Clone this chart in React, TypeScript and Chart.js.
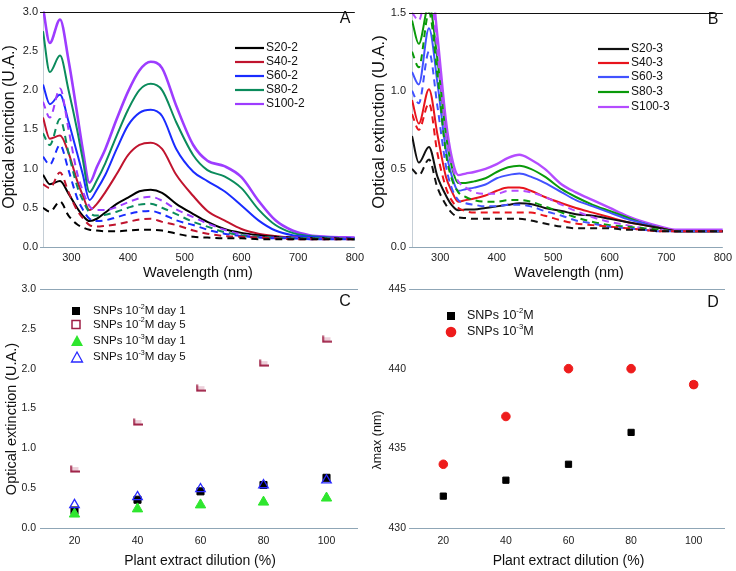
import React, { useEffect, useRef } from 'react';
import { Chart, registerables } from 'chart.js';

Chart.register(...registerables);

const FONT = '"Liberation Sans", Arial, Helvetica, sans-serif';

// ---------------- data ----------------
const WAVELENGTHS = [250, 262, 280, 295, 310, 320, 332, 345, 360, 380, 400, 420, 440, 460, 485, 515, 540, 570, 600, 630, 660, 690, 720, 750, 800];

// Panel A (10^-2 M): solid = day 5, dashed = day 1
const A_LABELS = ['S20-2', 'S40-2', 'S60-2', 'S80-2', 'S100-2'];
const A_COLORS = ['#000000', '#c0142e', '#1a2cff', '#0b8b5c', '#9d3cff'];
const A_S20_DAY5 = [0.92, 0.8, 0.84, 0.68, 0.5, 0.4, 0.33, 0.36, 0.44, 0.55, 0.63, 0.71, 0.73, 0.69, 0.55, 0.42, 0.32, 0.23, 0.18, 0.15, 0.13, 0.12, 0.11, 0.11, 0.1];
const A_S40_DAY5 = [1.65, 1.38, 1.42, 1.2, 0.85, 0.66, 0.47, 0.55, 0.7, 0.93, 1.17, 1.3, 1.33, 1.25, 0.92, 0.65, 0.46, 0.34, 0.23, 0.17, 0.14, 0.12, 0.11, 0.11, 0.1];
const A_S60_DAY5 = [2.07, 1.82, 1.94, 1.6, 1.2, 0.93, 0.6, 0.73, 0.92, 1.25, 1.55, 1.71, 1.75, 1.67, 1.25, 0.96, 0.84, 0.71, 0.53, 0.34, 0.21, 0.15, 0.13, 0.12, 0.11];
const A_S80_DAY5 = [2.75, 2.23, 2.44, 2.0, 1.5, 1.12, 0.7, 0.85, 1.07, 1.42, 1.75, 2.0, 2.08, 2.0, 1.59, 1.17, 0.98, 0.9, 0.75, 0.48, 0.28, 0.18, 0.14, 0.12, 0.11];
const A_S100_DAY5 = [3.05, 2.6, 2.9, 2.38, 1.71, 1.25, 0.82, 1.02, 1.25, 1.63, 1.98, 2.25, 2.36, 2.28, 1.8, 1.3, 1.1, 1.03, 0.89, 0.59, 0.34, 0.21, 0.15, 0.13, 0.12];
const A_S20_DAY1 = [0.5, 0.45, 0.58, 0.4, 0.29, 0.25, 0.22, 0.21, 0.2, 0.2, 0.21, 0.22, 0.22, 0.21, 0.17, 0.13, 0.12, 0.11, 0.11, 0.1, 0.1, 0.1, 0.1, 0.1, 0.1];
const A_S40_DAY1 = [0.8, 0.75, 0.95, 0.7, 0.47, 0.37, 0.28, 0.26, 0.27, 0.29, 0.32, 0.35, 0.36, 0.32, 0.28, 0.21, 0.17, 0.14, 0.13, 0.12, 0.11, 0.1, 0.1, 0.1, 0.1];
const A_S60_DAY1 = [1.15, 1.05, 1.3, 0.98, 0.63, 0.48, 0.36, 0.33, 0.34, 0.38, 0.42, 0.45, 0.46, 0.42, 0.34, 0.28, 0.22, 0.17, 0.14, 0.12, 0.11, 0.11, 0.1, 0.1, 0.1];
const A_S80_DAY1 = [1.45, 1.3, 1.63, 1.2, 0.78, 0.6, 0.44, 0.4, 0.41, 0.45, 0.5, 0.54, 0.55, 0.5, 0.42, 0.32, 0.26, 0.19, 0.15, 0.13, 0.12, 0.11, 0.11, 0.11, 0.1];
const A_S100_DAY1 = [1.85, 1.65, 2.02, 1.5, 0.95, 0.72, 0.52, 0.47, 0.47, 0.51, 0.57, 0.62, 0.64, 0.59, 0.48, 0.38, 0.3, 0.22, 0.16, 0.13, 0.12, 0.12, 0.11, 0.11, 0.11];

// Panel B (10^-3 M): solid = day 5, dashed = day 1
const B_LABELS = ['S20-3', 'S40-3', 'S60-3', 'S80-3', 'S100-3'];
const B_COLORS = ['#111111', '#e8141c', '#4252ff', '#0a9a0a', '#b44cff'];
const B_S20_DAY5 = [0.71, 0.54, 0.64, 0.45, 0.33, 0.27, 0.235, 0.24, 0.24, 0.25, 0.26, 0.27, 0.28, 0.275, 0.25, 0.23, 0.21, 0.2, 0.18, 0.16, 0.14, 0.12, 0.1, 0.1, 0.1];
const B_S40_DAY5 = [0.94, 0.79, 1.01, 0.72, 0.45, 0.36, 0.29, 0.3, 0.31, 0.33, 0.36, 0.38, 0.38, 0.36, 0.32, 0.28, 0.25, 0.22, 0.19, 0.16, 0.14, 0.12, 0.1, 0.1, 0.1];
const B_S60_DAY5 = [1.12, 1.04, 1.4, 1.05, 0.62, 0.46, 0.36, 0.37, 0.38, 0.4, 0.44, 0.46, 0.47, 0.45, 0.41, 0.35, 0.3, 0.26, 0.22, 0.18, 0.15, 0.12, 0.1, 0.1, 0.1];
const B_S80_DAY5 = [1.45, 1.3, 1.55, 1.2, 0.72, 0.52, 0.41, 0.41, 0.42, 0.44, 0.48, 0.51, 0.52, 0.5, 0.45, 0.37, 0.32, 0.27, 0.23, 0.19, 0.15, 0.12, 0.1, 0.1, 0.1];
const B_S100_DAY5 = [1.65, 1.55, 1.8, 1.35, 0.81, 0.58, 0.46, 0.47, 0.48, 0.5, 0.53, 0.57, 0.59, 0.56, 0.5, 0.4, 0.35, 0.3, 0.25, 0.2, 0.16, 0.13, 0.11, 0.11, 0.11];
const B_S20_DAY1 = [0.5, 0.46, 0.56, 0.38, 0.27, 0.22, 0.19, 0.185, 0.18, 0.18, 0.18, 0.18, 0.18, 0.17, 0.15, 0.13, 0.12, 0.12, 0.12, 0.11, 0.11, 0.1, 0.1, 0.1, 0.1];
const B_S40_DAY1 = [0.85, 0.75, 0.92, 0.6, 0.38, 0.3, 0.25, 0.23, 0.22, 0.22, 0.22, 0.22, 0.22, 0.22, 0.2, 0.17, 0.15, 0.14, 0.13, 0.12, 0.11, 0.1, 0.1, 0.1, 0.1];
const B_S60_DAY1 = [1.0, 0.92, 1.25, 0.9, 0.52, 0.38, 0.3, 0.28, 0.27, 0.26, 0.26, 0.27, 0.27, 0.26, 0.23, 0.2, 0.17, 0.15, 0.13, 0.12, 0.11, 0.1, 0.1, 0.1, 0.1];
const B_S80_DAY1 = [1.25, 1.15, 1.5, 1.1, 0.6, 0.44, 0.35, 0.32, 0.3, 0.29, 0.29, 0.3, 0.3, 0.29, 0.26, 0.22, 0.19, 0.16, 0.14, 0.13, 0.12, 0.11, 0.1, 0.1, 0.1];
const B_S100_DAY1 = [1.5, 1.45, 1.7, 1.25, 0.72, 0.53, 0.42, 0.38, 0.35, 0.34, 0.34, 0.36, 0.36, 0.35, 0.32, 0.27, 0.23, 0.19, 0.16, 0.14, 0.12, 0.11, 0.1, 0.1, 0.1];

// Panel C / D
const DILUTION = [20, 40, 60, 80, 100];
const C_SNP2_DAY1 = [0.22, 0.355, 0.46, 0.54, 0.63];
const C_SNP2_DAY5 = [0.74, 1.33, 1.755, 2.07, 2.37];
const C_SNP3_DAY1 = [0.175, 0.24, 0.29, 0.325, 0.376];
const C_SNP3_DAY5 = [0.29, 0.39, 0.49, 0.54, 0.6];
const D_SNP2 = [432, 433, 434, 436, 439];
const D_SNP3 = [434, 437, 440, 440, 439];

const A_TICKS_X = [300, 400, 500, 600, 700, 800];
const C_TICKS_X = [20, 40, 60, 80, 100];

// ---------------- helpers ----------------
type Part = { t: string; sup?: boolean };
type LegendEntry = { parts: Part[]; mark: (ctx: CanvasRenderingContext2D, y: number) => void };

function drawRich(ctx: CanvasRenderingContext2D, parts: Part[], x: number, y: number, size: number) {
  let cx = x;
  ctx.textAlign = 'left';
  ctx.textBaseline = 'middle';
  for (const p of parts) {
    const s = p.sup ? size * 0.62 : size;
    ctx.font = `${s}px ${FONT}`;
    ctx.fillText(p.t, cx, p.sup ? y - size * 0.38 : y);
    cx += ctx.measureText(p.t).width;
  }
}

type Decor = {
  letter: string; letterPos: [number, number];
  xTitle: string; xTitlePos: [number, number]; xTitleSize: number;
  yTitle: string; yTitlePos: [number, number]; yTitleSize: number;
  topColor: string; bottomColor: string; leftColor?: string;
  legend: LegendEntry[]; legendTextX: number; legendYs: number[]; legendSize: number;
};

function decorPlugin(d: Decor) {
  return {
    id: 'decor' + d.letter,
    beforeDatasetsDraw(chart: any) {
      const { ctx, chartArea: a } = chart;
      ctx.save();
      ctx.lineWidth = 1;
      ctx.strokeStyle = d.bottomColor;
      ctx.beginPath();
      ctx.moveTo(a.left - 3, Math.round(a.bottom) + 0.5);
      ctx.lineTo(a.right, Math.round(a.bottom) + 0.5);
      ctx.stroke();
      if (d.leftColor) {
        ctx.strokeStyle = d.leftColor;
        ctx.beginPath();
        ctx.moveTo(Math.round(a.left) + 0.5, a.top);
        ctx.lineTo(Math.round(a.left) + 0.5, a.bottom);
        ctx.stroke();
      }
      ctx.restore();
    },
    afterDraw(chart: any) {
      const { ctx, chartArea: a } = chart;
      ctx.save();
      ctx.lineWidth = 1;
      ctx.strokeStyle = d.topColor;
      ctx.beginPath();
      ctx.moveTo(a.left - 3, Math.round(a.top) + 0.5);
      ctx.lineTo(a.right, Math.round(a.top) + 0.5);
      ctx.stroke();

      ctx.fillStyle = '#111';
      ctx.textAlign = 'center';
      ctx.textBaseline = 'middle';
      ctx.font = `16px ${FONT}`;
      ctx.fillText(d.letter, d.letterPos[0], d.letterPos[1]);

      ctx.font = `${d.xTitleSize}px ${FONT}`;
      ctx.fillText(d.xTitle, d.xTitlePos[0], d.xTitlePos[1]);

      ctx.save();
      ctx.translate(d.yTitlePos[0], d.yTitlePos[1]);
      ctx.rotate(-Math.PI / 2);
      ctx.font = `${d.yTitleSize}px ${FONT}`;
      ctx.fillText(d.yTitle, 0, 0);
      ctx.restore();

      d.legend.forEach((e, i) => {
        const y = d.legendYs[i];
        ctx.save();
        e.mark(ctx, y);
        ctx.restore();
        ctx.fillStyle = '#111';
        drawRich(ctx, e.parts, d.legendTextX, y, d.legendSize);
      });
      ctx.restore();
    },
  };
}

function lineMark(color: string, x1: number, x2: number) {
  return (ctx: CanvasRenderingContext2D, y: number) => {
    ctx.strokeStyle = color;
    ctx.lineWidth = 2.2;
    ctx.beginPath();
    ctx.moveTo(x1, y);
    ctx.lineTo(x2, y);
    ctx.stroke();
  };
}

function xScale(min: number, max: number, keep: number[], h: number, pad: number, size: number) {
  return {
    type: 'linear', min, max,
    border: { display: false },
    grid: { display: false, drawTicks: false },
    ticks: { color: '#222', font: { size, family: FONT }, padding: pad, maxRotation: 0, autoSkip: false },
    afterBuildTicks: (s: any) => { s.ticks = keep.map((v) => ({ value: v })); },
    afterFit: (s: any) => { s.height = h; },
  };
}

function yScale(min: number, max: number, step: number, w: number, pad: number, size: number, fixed: boolean) {
  return {
    type: 'linear', min, max,
    border: { display: false },
    grid: { display: false, drawTicks: false },
    ticks: {
      stepSize: step, color: '#222', font: { size, family: FONT }, padding: pad,
      callback: (v: any) => (fixed ? Number(v).toFixed(1) : String(v)),
    },
    afterFit: (s: any) => { s.width = w; },
  };
}

function lineSet(values: number[], color: string, dashed: boolean, width: number) {
  return {
    data: WAVELENGTHS.map((x, i) => ({ x, y: values[i] })),
    borderColor: color,
    borderWidth: width,
    borderDash: dashed ? [7, 5] : [],
    pointRadius: 0,
    fill: false,
    cubicInterpolationMode: 'monotone',
  };
}

function pts(ys: number[]) {
  return DILUTION.map((x, i) => ({ x, y: ys[i] }));
}

function makeLMarker(color: string) {
  const c = document.createElement('canvas');
  c.width = 10;
  c.height = 8;
  const g = c.getContext('2d')!;
  g.fillStyle = 'rgba(200,120,150,0.35)';
  g.fillRect(2, 2, 7, 4);
  g.strokeStyle = color;
  g.lineWidth = 2;
  g.beginPath();
  g.moveTo(1.5, 0.5);
  g.lineTo(1.5, 6.5);
  g.lineTo(10, 6.5);
  g.stroke();
  return c;
}

const baseOptions = (padding: any) => ({
  responsive: false,
  animation: false,
  devicePixelRatio: 1,
  events: [] as any[],
  layout: { padding },
  plugins: { legend: { display: false }, tooltip: { enabled: false } },
});

// ---------------- chart configs ----------------
function configA(): any {
  const day5 = [A_S20_DAY5, A_S40_DAY5, A_S60_DAY5, A_S80_DAY5, A_S100_DAY5];
  const day1 = [A_S20_DAY1, A_S40_DAY1, A_S60_DAY1, A_S80_DAY1, A_S100_DAY1];
  return {
    type: 'line',
    data: {
      datasets: [
        ...day1.map((v, i) => ({ ...lineSet(v, A_COLORS[i], true, 2), label: A_LABELS[i] + ' day 1' })),
        ...day5.map((v, i) => ({ ...lineSet(v, A_COLORS[i], false, i === 4 ? 2.6 : 2), label: A_LABELS[i] })),
      ],
    },
    options: {
      ...baseOptions({ top: 7, right: 11, left: 0, bottom: 0 }),
      scales: {
        x: xScale(250, 800, A_TICKS_X, 38, 4, 11),
        y: yScale(0, 3, 0.5, 43, 5, 11, true),
      },
    },
    plugins: [decorPlugin({
      letter: 'A', letterPos: [345, 19],
      xTitle: 'Wavelength (nm)', xTitlePos: [198, 273], xTitleSize: 14.5,
      yTitle: 'Optical exinction (U.A.)', yTitlePos: [10, 127], yTitleSize: 16,
      topColor: '#111', bottomColor: '#8fa6b6', leftColor: '#c5ced6',
      legend: A_LABELS.map((l, i) => ({ parts: [{ t: l }], mark: lineMark(A_COLORS[i], 235, 264) })),
      legendTextX: 266, legendYs: [48, 62, 76, 90, 104], legendSize: 12,
    })],
  };
}

function configB(): any {
  const day5 = [B_S20_DAY5, B_S40_DAY5, B_S60_DAY5, B_S80_DAY5, B_S100_DAY5];
  const day1 = [B_S20_DAY1, B_S40_DAY1, B_S60_DAY1, B_S80_DAY1, B_S100_DAY1];
  return {
    type: 'line',
    data: {
      datasets: [
        ...day1.map((v, i) => ({ ...lineSet(v, B_COLORS[i], true, 2), label: B_LABELS[i] + ' day 1' })),
        ...day5.map((v, i) => ({ ...lineSet(v, B_COLORS[i], false, i === 4 ? 2.4 : 2), label: B_LABELS[i] })),
      ],
    },
    options: {
      ...baseOptions({ top: 7, right: 11, left: 0, bottom: 0 }),
      scales: {
        x: xScale(250, 800, A_TICKS_X, 38, 4, 11),
        y: yScale(0, 1.5, 0.5, 44, 6, 11, true),
      },
    },
    plugins: [decorPlugin({
      letter: 'B', letterPos: [345, 20],
      xTitle: 'Wavelength (nm)', xTitlePos: [201, 273], xTitleSize: 14.5,
      yTitle: 'Optical extinction (U.A.)', yTitlePos: [11, 122], yTitleSize: 16.5,
      topColor: '#111', bottomColor: '#8fa6b6', leftColor: '#c5ced6',
      legend: B_LABELS.map((l, i) => ({ parts: [{ t: l }], mark: lineMark(B_COLORS[i], 230, 261) })),
      legendTextX: 263, legendYs: [49, 63, 77, 92, 107], legendSize: 12,
    })],
  };
}

function configC(): any {
  const MAROON = '#9e1f45';
  return {
    type: 'scatter',
    data: {
      datasets: [
        { label: 'SNPs 10-2M day 1', data: pts(C_SNP2_DAY1), pointStyle: 'rect', pointRadius: 5, backgroundColor: '#000', borderColor: '#000', borderWidth: 1, order: 4 },
        { label: 'SNPs 10-2M day 5', data: pts(C_SNP2_DAY5), pointStyle: makeLMarker(MAROON), pointRadius: 5, order: 3 },
        { label: 'SNPs 10-3M day 1', data: pts(C_SNP3_DAY1), pointStyle: 'triangle', pointRadius: 6, backgroundColor: '#2ee62e', borderColor: '#2ee62e', borderWidth: 1, order: 2 },
        { label: 'SNPs 10-3M day 5', data: pts(C_SNP3_DAY5), pointStyle: 'triangle', pointRadius: 5.5, backgroundColor: 'rgba(255,255,255,0)', borderColor: '#2a2aff', borderWidth: 1.3, order: 1 },
      ],
    },
    options: {
      ...baseOptions({ top: 14, right: 10, left: 0, bottom: 0 }),
      scales: {
        x: xScale(10, 110, C_TICKS_X, 43, 7, 10.5),
        y: yScale(0, 3, 0.5, 43, 7, 10.5, true),
      },
    },
    plugins: [decorPlugin({
      letter: 'C', letterPos: [345, 27],
      xTitle: 'Plant extract dilution (%)', xTitlePos: [200, 286], xTitleSize: 14,
      yTitle: 'Optical extinction (U.A.)', yTitlePos: [12, 144], yTitleSize: 14.5,
      topColor: '#8fa6b6', bottomColor: '#8fa6b6',
      legend: [
        { parts: [{ t: 'SNPs 10' }, { t: '-2', sup: true }, { t: 'M day 1' }], mark: (ctx, y) => { ctx.fillStyle = '#000'; ctx.fillRect(72, y - 4, 8, 8); } },
        { parts: [{ t: 'SNPs 10' }, { t: '-2', sup: true }, { t: 'M day 5' }], mark: (ctx, y) => { ctx.strokeStyle = MAROON; ctx.lineWidth = 1.5; ctx.strokeRect(72, y - 4, 8, 8); } },
        { parts: [{ t: 'SNPs 10' }, { t: '-3', sup: true }, { t: 'M day 1' }], mark: (ctx, y) => { ctx.fillStyle = '#2ee62e'; ctx.beginPath(); ctx.moveTo(77, y - 6); ctx.lineTo(83, y + 5); ctx.lineTo(71, y + 5); ctx.closePath(); ctx.fill(); } },
        { parts: [{ t: 'SNPs 10' }, { t: '-3', sup: true }, { t: 'M day 5' }], mark: (ctx, y) => { ctx.strokeStyle = '#2a2aff'; ctx.lineWidth = 1.3; ctx.beginPath(); ctx.moveTo(77, y - 5); ctx.lineTo(82.5, y + 5); ctx.lineTo(71.5, y + 5); ctx.closePath(); ctx.stroke(); } },
      ],
      legendTextX: 93, legendYs: [36, 49.5, 66, 82], legendSize: 11.5,
    })],
  };
}

function configD(): any {
  return {
    type: 'scatter',
    data: {
      datasets: [
        { label: 'SNPs 10-2M', data: pts(D_SNP2), pointStyle: 'rect', pointRadius: 4.4, backgroundColor: '#000', borderColor: '#000', borderWidth: 1, order: 2 },
        { label: 'SNPs 10-3M', data: pts(D_SNP3), pointStyle: 'circle', pointRadius: 4.3, backgroundColor: '#ee1c1c', borderColor: '#ee1c1c', borderWidth: 1, order: 1 },
      ],
    },
    options: {
      ...baseOptions({ top: 14, right: 11, left: 0, bottom: 0 }),
      scales: {
        x: xScale(10, 110, C_TICKS_X, 43, 7, 10.5),
        y: yScale(430, 445, 5, 44, 6, 10.5, false),
      },
    },
    plugins: [decorPlugin({
      letter: 'D', letterPos: [345, 28],
      xTitle: 'Plant extract dilution (%)', xTitlePos: [200.5, 286], xTitleSize: 14,
      yTitle: '\u03bbmax (nm)', yTitlePos: [10, 165], yTitleSize: 12.5,
      topColor: '#8fa6b6', bottomColor: '#8fa6b6',
      legend: [
        { parts: [{ t: 'SNPs 10' }, { t: '-2', sup: true }, { t: 'M' }], mark: (ctx, y) => { ctx.fillStyle = '#000'; ctx.fillRect(79, y - 4, 8, 8); } },
        { parts: [{ t: 'SNPs 10' }, { t: '-3', sup: true }, { t: 'M' }], mark: (ctx, y) => { ctx.fillStyle = '#ee1c1c'; ctx.beginPath(); ctx.arc(83, y, 5.3, 0, Math.PI * 2); ctx.fill(); } },
      ],
      legendTextX: 99, legendYs: [41, 57], legendSize: 12.5,
    })],
  };
}

// ---------------- components ----------------
function Panel({ left, top, width, height, make }: { left: number; top: number; width: number; height: number; make: () => any }) {
  const ref = useRef<HTMLCanvasElement>(null);
  useEffect(() => {
    const chart = new Chart(ref.current as HTMLCanvasElement, make());
    return () => chart.destroy();
  }, []);
  return (
    <canvas
      ref={ref}
      width={width}
      height={height}
      style={{ position: 'absolute', left, top, width, height, display: 'block' }}
    />
  );
}

export default function App() {
  Chart.defaults.font.family = FONT;
  return (
    <div style={{ position: 'absolute', left: 0, top: 0, width: 736, height: 571, background: '#ffffff', overflow: 'hidden' }}>
      <Panel left={0} top={0} width={368} height={285} make={configA} />
      <Panel left={368} top={0} width={368} height={285} make={configB} />
      <Panel left={0} top={275} width={368} height={296} make={configC} />
      <Panel left={368} top={275} width={368} height={296} make={configD} />
    </div>
  );
}
